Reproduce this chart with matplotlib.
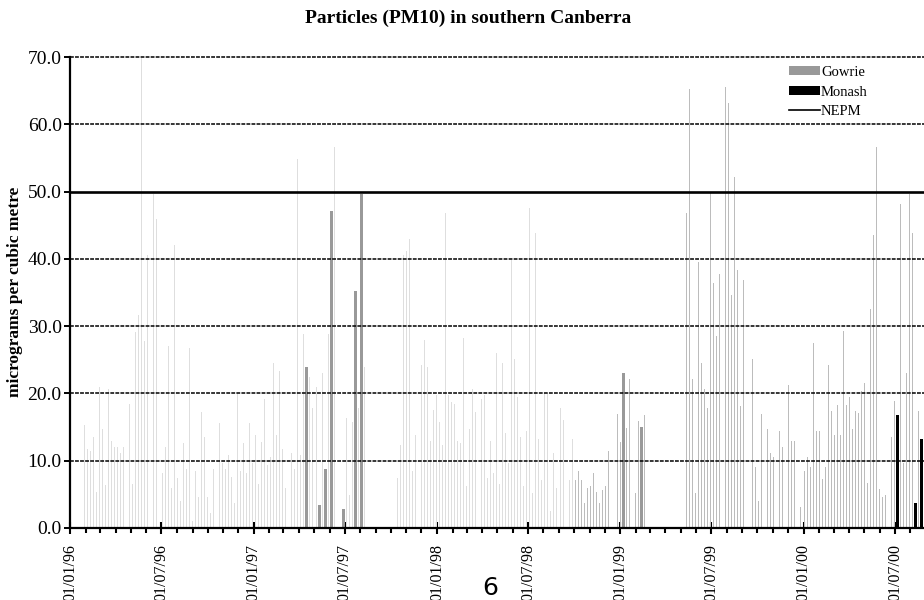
import numpy as np
import pandas as pd
import matplotlib
matplotlib.use('Agg')
import matplotlib.pyplot as plt
import matplotlib.dates as mdates
from matplotlib.patches import Patch
from matplotlib.lines import Line2D

# Gowrie PM10, one sample every 6 days from 29/01/96 (nan = no sample)
gowrie_start = '1996-01-29'
gowrie_values = [
    15.3, 11.7, 11.4, 13.5, 5.4, 20.9, 14.7, 6.4, 20.6, 12.9,
    12.0, 12.0, 11.1, 12.0, np.nan, 18.5, 6.6, 29.2, 31.6, 69.9,
    27.8, 40.6, np.nan, 49.6, 45.9, np.nan, 8.1, 12.0, 27.1, 6.0,
    42.0, 7.5, 4.0, 12.6, 8.7, 26.8, 1.0, 8.4, 4.6, 17.3,
    13.5, 4.6, 2.2, 8.7, np.nan, 15.6, 9.6, 8.7, 10.8, 7.6,
    3.7, 20.0, 8.4, 12.6, 8.1, 15.6, 9.6, 13.8, 6.6, 12.8,
    19.2, 9.4, 10.5, 24.5, 13.8, 23.3, 11.7, 6.0, np.nan, 11.1,
    8.7, 54.8, 10.8, 28.9, np.nan, 22.4, 17.9, 20.9, np.nan, 23.0,
    np.nan, 28.9, np.nan, 56.6, np.nan, np.nan, np.nan, 16.4, 4.9, 15.8,
    np.nan, 17.9, np.nan, 23.9, np.nan, np.nan, np.nan, np.nan, np.nan, np.nan,
    np.nan, np.nan, np.nan, np.nan, 7.5, 12.3, 40.6, 41.1, 42.9, 8.4,
    13.8, np.nan, 24.2, 28.0, 23.9, 12.9, 17.6, 19.7, 15.8, 12.3,
    46.8, 19.7, 18.8, 18.5, 12.9, 12.6, 28.3, 6.3, 14.7, 20.6,
    17.3, np.nan, 19.1, 19.7, 7.5, 12.9, 8.1, 26.0, 6.6, 24.5,
    14.1, 9.6, 39.8, 25.1, 19.4, 13.5, 6.3, 14.4, 47.6, 5.2,
    43.8, 13.2, 7.2, 20.0, 20.0, 2.5, 11.1, 6.0, 17.9, 16.1,
    np.nan, 7.2, 13.2, 7.2, 8.4, 7.2, 3.7, 6.0, 6.3, 8.1,
    5.4, 3.7, 5.7, 6.3, 11.4, np.nan, np.nan, 17.0, 12.8, np.nan,
    14.9, 22.1, np.nan, 5.2, 15.9, np.nan, 16.8, np.nan, np.nan, np.nan,
    np.nan, np.nan, np.nan, np.nan, np.nan, np.nan, np.nan, np.nan, np.nan, np.nan,
    46.8, 65.2, 22.1, 5.2, 39.6, 24.5, 20.6, 17.9, 50.0, 36.4,
    28.6, 37.8, np.nan, 65.5, 63.1, 34.6, 52.1, 38.4, 18.2, 36.9,
    np.nan, np.nan, 25.1, 9.0, 4.0, 17.0, np.nan, 14.7, 11.1, 10.5,
    np.nan, 14.4, 12.0, np.nan, 21.2, 12.9, 12.9, np.nan, 3.1, 8.5,
    10.5, 9.1, 27.5, 14.4, 14.4, 7.3, 9.1, 24.2, 17.4, 13.8,
    18.3, 13.8, 29.3, 18.3, 19.5, 14.7, 17.4, 17.1, 20.4, 21.5,
    6.7, 32.5, 43.5, 56.6, 5.8, 4.6, 4.9, np.nan, 13.5, 18.9,
    np.nan, 48.2, 9.7, 23.0, 49.7, 43.8, np.nan, 17.4,
]

# Gowrie samples drawn as full-width bars in the original
gowrie_wide_dates = ['1997-04-17', '1997-05-11', '1997-05-23', '1997-06-04',
                     '1997-06-28', '1997-07-22', '1997-08-03', '1999-01-07',
                     '1999-02-12']
gowrie_wide_values = [23.9, 3.4, 8.7, 47.1, 2.8, 35.2, 49.6, 23.0, 15.0]

monash_dates = ['2000-07-06', '2000-08-11', '2000-08-23']
monash_values = [16.8, 3.7, 13.2]

nepm_limit = 50.0

plt.rcParams['font.family'] = ['Liberation Serif', 'DejaVu Serif']

gowrie_dates = pd.date_range(gowrie_start, periods=len(gowrie_values), freq='6D')
gowrie = pd.Series(gowrie_values, index=gowrie_dates).dropna()
wide = pd.Series(gowrie_wide_values, index=pd.to_datetime(gowrie_wide_dates))
monash = pd.Series(monash_values, index=pd.to_datetime(monash_dates))

x_start = pd.Timestamp('1996-01-01')
x_end = pd.Timestamp('2000-08-28')

fig = plt.figure(figsize=(9.24, 6.0), dpi=100)
ax = fig.add_axes([70 / 924, 1 - 528 / 600, 1 - 70 / 924, (528 - 57) / 600])

# thin bars: lighter before the 1998 gap, a bit darker later
thin_colors = ['#dedede' if d < pd.Timestamp('1998-10-01') else '#bcbcbc' for d in gowrie.index]
ax.bar(gowrie.index, gowrie.values, width=2.0, color=thin_colors, linewidth=0, zorder=2)
ax.bar(wide.index, wide.values, width=6.0, color='#999999', linewidth=0, zorder=2)
ax.bar(monash.index, monash.values, width=4.5, color='black', linewidth=0, zorder=2)

# dashed grid, NEPM as a solid line
for v in range(10, 80, 10):
    if v != nepm_limit:
        ax.axhline(v, color='black', lw=1.1, ls=(0, (2.5, 0.8)), zorder=3, clip_on=False)
ax.plot([x_start, x_end], [nepm_limit, nepm_limit], color='black', lw=1.9, zorder=4)

ax.set_xlim(x_start, x_end)
ax.set_ylim(0, 70)
ax.set_yticks(np.arange(0, 71, 10))
ax.yaxis.set_major_formatter(matplotlib.ticker.FormatStrFormatter('%.1f'))

ax.xaxis.set_major_locator(mdates.MonthLocator(bymonth=[1, 7]))
ax.xaxis.set_minor_locator(mdates.MonthLocator())
ax.xaxis.set_major_formatter(mdates.DateFormatter('%d/%m/%y'))

ax.tick_params(axis='y', direction='out', length=4.5, width=1.4, pad=1.5, labelsize=14)
ax.tick_params(axis='x', which='major', direction='inout', length=9, width=1.5,
               pad=7, labelsize=11.5, labelrotation=90)
ax.tick_params(axis='x', which='minor', direction='out', length=3.5, width=1.5)

for s in ['top', 'right']:
    ax.spines[s].set_visible(False)
ax.spines['left'].set_linewidth(1.6)
ax.spines['bottom'].set_linewidth(1.6)

handles = [Patch(facecolor='#999999', edgecolor='none'),
           Patch(facecolor='black', edgecolor='none'),
           Line2D([], [], color='black', lw=1.2)]
fig.legend(handles, ['Gowrie', 'Monash', 'NEPM'], loc='upper left',
           bbox_to_anchor=(789 / 924, 1 - 66 / 600), frameon=False, fontsize=10.5,
           handlelength=2.1, handleheight=0.55, handletextpad=0.1,
           labelspacing=0.45, borderpad=0.0, borderaxespad=0.0)

fig.text(468 / 924, 1 - 18 / 600, 'Particles (PM10) in southern Canberra',
         ha='center', va='center', fontsize=14, fontweight='bold')
fig.text(15 / 924, 1 - 292 / 600, 'micrograms per cubic metre', rotation=90,
         ha='center', va='center', fontsize=12.5, fontweight='bold')
# page number at the foot of the page
fig.text(490 / 924, 0.0, '6', ha='center', va='bottom', fontsize=18,
         family='DejaVu Sans')

fig.savefig('out.png', dpi=100)
